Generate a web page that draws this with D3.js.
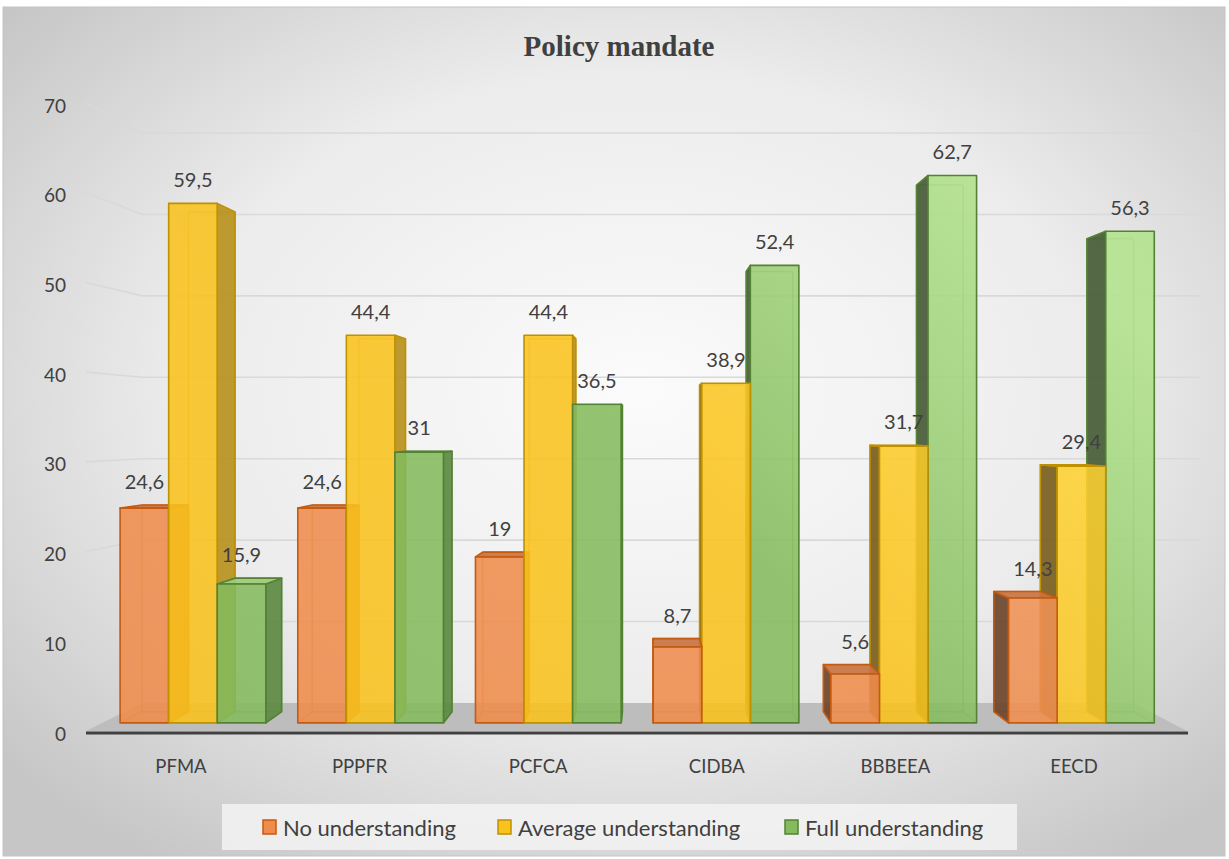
<!DOCTYPE html>
<html>
<head>
<meta charset="utf-8">
<script src="https://cdn.jsdelivr.net/npm/d3@7"></script>
<style>
  html, body { margin: 0; padding: 0; background: #ffffff; }
  svg { display: block; }
</style>
</head>
<body>
<script>
// ---- Data ----
const categories = ["PFMA", "PPPFR", "PCFCA", "CIDBA", "BBBEEA", "EECD"];
const seriesNames = ["No understanding", "Average understanding", "Full understanding"];
const noUnderstanding = [24.6, 24.6, 19, 8.7, 5.6, 14.3];
const averageUnderstanding = [59.5, 44.4, 44.4, 38.9, 31.7, 29.4];
const fullUnderstanding = [15.9, 31, 36.5, 52.4, 62.7, 56.3];
const yTicks = [0, 10, 20, 30, 40, 50, 60, 70];
const chartTitle = "Policy mandate";

const seriesValues = [noUnderstanding, averageUnderstanding, fullUnderstanding];

// ---- Styles per series ----
const palette = [
  { front: "#EF8C4C", stroke: "#C55A11", top: "#C87442", sideL: "#6E452C", sideR: "#C9692C", light: "#F29A60" },
  { front: "#FAC21C", stroke: "#BF9000", top: "#D9A817", sideL: "#7A6020", sideR: "#B8921E", light: "#FFD83A" },
  { front: "#84BB5C", stroke: "#548235", top: "#9CCB78", sideL: "#465C37", sideR: "#5D8A43", light: "#B2E38C" }
];

const W = 1229, H = 859;
const svg = d3.select("body").append("svg").attr("width", W).attr("height", H);
const defs = svg.append("defs");

// background gradient
const bg = defs.append("radialGradient").attr("id", "bg")
  .attr("cx", "52%").attr("cy", "45%").attr("r", "68%");
bg.append("stop").attr("offset", "0%").attr("stop-color", "#fbfbfb");
bg.append("stop").attr("offset", "55%").attr("stop-color", "#ececec");
bg.append("stop").attr("offset", "100%").attr("stop-color", "#c6c6c6");

// front-face gradients (lighter higher up)
palette.forEach((p, i) => {
  const g = defs.append("linearGradient").attr("id", "front" + i)
    .attr("gradientUnits", "userSpaceOnUse")
    .attr("x1", 420).attr("y1", 720).attr("x2", 980).attr("y2", 170);
  g.append("stop").attr("offset", "0%").attr("stop-color", p.front);
  g.append("stop").attr("offset", "45%").attr("stop-color", p.front);
  g.append("stop").attr("offset", "100%").attr("stop-color", p.light);
});

svg.append("rect").attr("x", 3).attr("y", 7).attr("width", 1222).attr("height", 849)
  .attr("fill", "url(#bg)").attr("stroke", "#c4c4c4").attr("stroke-width", 1);

// ---- Projection (front plane z=0, back wall z=1) ----
const yFront = d3.scaleLinear().domain([0, 70]).range([731, 103]);
const yBack = d3.scaleLinear().domain([0, 70]).range([703, 133]);
const VX = 650, K = 0.1;
function proj(X, v, z) {
  return [X + z * K * (VX - X), yFront(v) + z * (yBack(v) - yFront(v))];
}
const Z0 = 0.29, Z1 = 0.69;       // bar depth extent
const wallLeft = 86, floorRight = 1187, wallRight = 1200;

const x0 = d3.scaleBand().domain(categories).range([87.8, 1185.8]);
const groupW = x0.bandwidth() * 0.82;
const x1 = d3.scaleBand().domain(seriesNames).range([0, groupW]);

const line = d3.line();

// ---- Gridlines (left wall + back wall) ----
const grid = svg.append("g");
yTicks.filter(t => t > 0).forEach(t => {
  const a = [wallLeft, yFront(t)];
  const b = proj(wallLeft, t, 1);
  const c = [wallRight, yBack(t)];
  grid.append("path").attr("d", line([a, b, c]))
    .attr("fill", "none").attr("stroke", "#d9d9d9").attr("stroke-width", 1.6);
});

// ---- Floor ----
svg.append("path")
  .attr("d", line([proj(wallLeft, 0, 0), proj(floorRight, 0, 0), proj(floorRight, 0, 1), proj(wallLeft, 0, 1)]) + "Z")
  .attr("fill", "#bdbdbd");

// ---- Axis tick labels ----
svg.append("g").selectAll("text").data(yTicks).join("text")
  .attr("x", 66).attr("y", d => yFront(d) + 2)
  .attr("text-anchor", "end").attr("dominant-baseline", "central")
  .attr("font-family", "Lato, 'Open Sans', sans-serif").attr("font-size", 19)
  .attr("fill", "#404040").text(d => d);

// ---- Bars ----
const bars = [];
categories.forEach((c, ci) => {
  seriesNames.forEach((s, si) => {
    const xl = x0(c) + (x0.bandwidth() - groupW) / 2 + x1(s);
    bars.push({ c, ci, si, xl, xr: xl + x1.bandwidth(), v: seriesValues[si][ci] });
  });
});
bars.forEach(b => { b.mid = (b.xl + b.xr) / 2; });
bars.sort((a, b) => Math.abs(b.mid - VX) - Math.abs(a.mid - VX));

const barG = svg.append("g");
bars.forEach(b => {
  const p = palette[b.si];
  const g = barG.append("g");
  const F = {
    bl: proj(b.xl, 0, Z0), br: proj(b.xr, 0, Z0),
    tl: proj(b.xl, b.v, Z0), tr: proj(b.xr, b.v, Z0)
  };
  const B = {
    bl: proj(b.xl, 0, Z1), br: proj(b.xr, 0, Z1),
    tl: proj(b.xl, b.v, Z1), tr: proj(b.xr, b.v, Z1)
  };
  // hidden back edges, seen through the translucent faces
  const hidden = [
    [B.bl, B.br], [B.bl, B.tl], [B.br, B.tr], [B.tl, B.tr],
    [F.bl, B.bl], [F.br, B.br]
  ];
  hidden.forEach(seg => g.append("path").attr("d", line(seg))
    .attr("stroke", p.stroke).attr("stroke-opacity", 0.5).attr("stroke-width", 1.5).attr("fill", "none"));

  const faceAttrs = sel => sel.attr("stroke", p.stroke).attr("stroke-width", 1.6)
    .attr("stroke-linejoin", "round");

  // side face facing the viewer
  if (b.mid < VX) {
    g.append("path").attr("d", line([F.br, B.br, B.tr, F.tr]) + "Z")
      .attr("fill", p.sideR).attr("fill-opacity", 0.92).call(faceAttrs);
  } else {
    g.append("path").attr("d", line([F.bl, B.bl, B.tl, F.tl]) + "Z")
      .attr("fill", p.sideL).attr("fill-opacity", 0.92).call(faceAttrs);
  }
  // top face when below eye level
  if (B.tl[1] < F.tl[1]) {
    g.append("path").attr("d", line([F.tl, F.tr, B.tr, B.tl]) + "Z")
      .attr("fill", p.top).attr("fill-opacity", 0.92).call(faceAttrs);
  }
  // front face
  g.append("path").attr("d", line([F.bl, F.br, F.tr, F.tl]) + "Z")
    .attr("fill", `url(#front${b.si})`).attr("fill-opacity", 0.87).call(faceAttrs);
  b.labelX = (F.tl[0] + F.tr[0]) / 2;
  b.labelY = Math.min(F.tl[1], B.tl[1]);
});

// ---- Value labels ----
svg.append("g").selectAll("text").data(bars).join("text")
  .attr("x", d => d.labelX).attr("y", d => d.labelY - 24)
  .attr("text-anchor", "middle").attr("dominant-baseline", "central")
  .attr("font-family", "Lato, 'Open Sans', sans-serif").attr("font-size", 20)
  .attr("fill", "#404040")
  .text(d => String(d.v).replace(".", ","));

// ---- Category axis ----
svg.append("path").attr("d", line([[wallLeft, 733], [floorRight + 1, 733]]))
  .attr("stroke", "#404040").attr("stroke-width", 3);

const firstC = x0(categories[0]) + x0.bandwidth() / 2;
svg.append("g").selectAll("text").data(categories).join("text")
  .attr("x", d => 181 + (x0(d) + x0.bandwidth() / 2 - firstC) * 0.976)
  .attr("y", 766).attr("text-anchor", "middle").attr("dominant-baseline", "central")
  .attr("font-family", "Lato, 'Open Sans', sans-serif").attr("font-size", 18.5)
  .attr("fill", "#404040").text(d => d);

// ---- Title ----
svg.append("text").attr("x", 619).attr("y", 56).attr("text-anchor", "middle")
  .attr("font-family", "'Liberation Serif', 'Times New Roman', serif")
  .attr("font-weight", "bold").attr("font-size", 29).attr("fill", "#404040")
  .text(chartTitle);

// ---- Legend ----
const legend = svg.append("g");
legend.append("rect").attr("x", 222).attr("y", 804).attr("width", 795).attr("height", 46)
  .attr("fill", "#f3f3f3").attr("fill-opacity", 0.85);
const legendX = [263, 498, 785];
seriesNames.forEach((s, i) => {
  const p = palette[i];
  legend.append("rect").attr("x", legendX[i]).attr("y", 820).attr("width", 13).attr("height", 14)
    .attr("fill", p.front).attr("stroke", p.stroke).attr("stroke-width", 1.5);
  legend.append("text").attr("x", legendX[i] + 20).attr("y", 827)
    .attr("dominant-baseline", "central")
    .attr("font-family", "Lato, 'Open Sans', sans-serif").attr("font-size", 22)
    .attr("fill", "#404040").text(s);
});
</script>
</body>
</html>
